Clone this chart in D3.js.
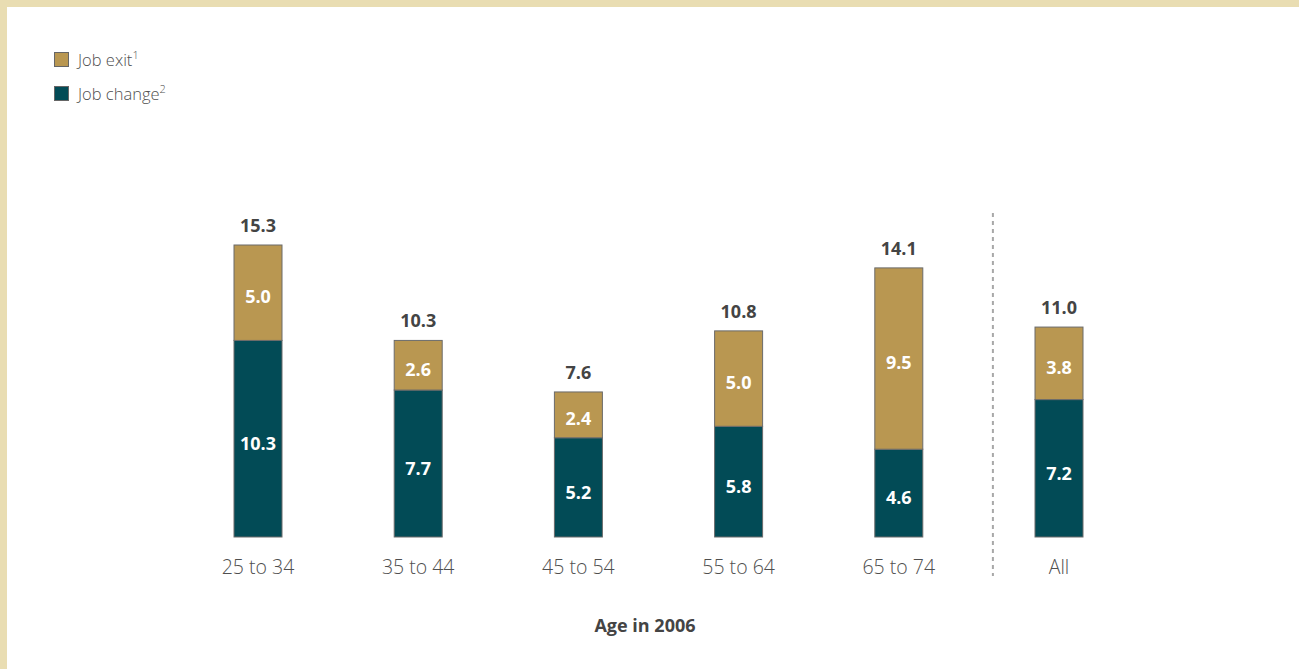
<!DOCTYPE html>
<html>
<head>
<meta charset="utf-8">
<script src="https://cdn.jsdelivr.net/npm/d3@7"></script>
<style>
  html, body { margin: 0; padding: 0; background: #e9ddb2; }
  svg { display: block; }
</style>
</head>
<body>
<svg id="chart" width="1299" height="669"></svg>
<script>
// Age groups and stacked shares (percent)
const categories = ["25 to 34", "35 to 44", "45 to 54", "55 to 64", "65 to 74", "All"];
const jobChange = [10.3, 7.7, 5.2, 5.8, 4.6, 7.2];
const jobExit = [5.0, 2.6, 2.4, 5.0, 9.5, 3.8];
const totals = [15.3, 10.3, 7.6, 10.8, 14.1, 11.0];
const seriesNames = ["Job exit", "Job change"];
const seriesSup = ["1", "2"];
const axisTitle = "Age in 2006";

const colors = { exit: "#b99751", change: "#024b56" };
const font = "'Open Sans', 'Lato', sans-serif";

const svg = d3.select("#chart");

// white panel inside the frame
svg.append("rect").attr("x", 7).attr("y", 7).attr("width", 1292).attr("height", 662).attr("fill", "#fff");

const x = d3.scalePoint().domain(categories).range([258, 1059]);
const y = d3.scaleLinear().domain([0, 15.3]).range([537, 245]);
const barW = 48;

const data = categories.map((c, i) => ({ cat: c, change: jobChange[i], exit: jobExit[i], total: totals[i] }));

const g = svg.append("g");

// job change segment (bottom)
g.selectAll("rect.change").data(data).join("rect")
  .attr("class", "change")
  .attr("x", d => x(d.cat) - barW / 2)
  .attr("width", barW)
  .attr("y", d => y(d.change))
  .attr("height", d => y(0) - y(d.change))
  .attr("fill", colors.change)
  .attr("stroke", "#6b6b6b").attr("stroke-width", 1);

// job exit segment (top)
g.selectAll("rect.exit").data(data).join("rect")
  .attr("class", "exit")
  .attr("x", d => x(d.cat) - barW / 2)
  .attr("width", barW)
  .attr("y", d => y(d.change + d.exit))
  .attr("height", d => y(d.change) - y(d.change + d.exit))
  .attr("fill", colors.exit)
  .attr("stroke", "#6b6b6b").attr("stroke-width", 1);

// segment values
g.selectAll("text.vchange").data(data).join("text")
  .attr("x", d => x(d.cat))
  .attr("y", d => (y(0) + y(d.change)) / 2 + 5)
  .attr("dy", "0.35em")
  .attr("text-anchor", "middle")
  .attr("fill", "#fff").attr("font-family", font).attr("font-weight", 700).attr("font-size", 18)
  .text(d => d.change.toFixed(1));

g.selectAll("text.vexit").data(data).join("text")
  .attr("x", d => x(d.cat))
  .attr("y", d => (y(d.change) + y(d.change + d.exit)) / 2 + 4)
  .attr("dy", "0.35em")
  .attr("text-anchor", "middle")
  .attr("fill", "#fff").attr("font-family", font).attr("font-weight", 700).attr("font-size", 18)
  .text(d => d.exit.toFixed(1));

// totals above bars
g.selectAll("text.total").data(data).join("text")
  .attr("x", d => x(d.cat))
  .attr("y", d => y(d.total) - 13)
  .attr("text-anchor", "middle")
  .attr("fill", "#444").attr("font-family", font).attr("font-weight", 700).attr("font-size", 18)
  .text(d => d.total.toFixed(1));

// category labels
g.selectAll("text.cat").data(categories).join("text")
  .attr("x", d => x(d))
  .attr("y", 574)
  .attr("text-anchor", "middle")
  .attr("fill", "#4f4f4f").attr("font-family", font).attr("font-weight", 300).attr("font-size", 19.5)
  .text(d => d);

// separator between age groups and overall
const sepX = (x(categories[4]) + x(categories[5])) / 2 + 14;
svg.append("line")
  .attr("x1", sepX).attr("x2", sepX)
  .attr("y1", 213).attr("y2", 576)
  .attr("stroke", "#a8a8a8").attr("stroke-width", 2).attr("stroke-dasharray", "4,4");

// axis title
svg.append("text")
  .attr("x", 645).attr("y", 632)
  .attr("text-anchor", "middle")
  .attr("fill", "#444").attr("font-family", font).attr("font-weight", 700).attr("font-size", 18)
  .text(axisTitle);

// legend
const legend = svg.append("g").attr("transform", "translate(54,52)");
const legendColors = [colors.exit, colors.change];
seriesNames.forEach((name, i) => {
  const row = legend.append("g").attr("transform", `translate(0,${i * 34})`);
  row.append("rect").attr("x", 0.5).attr("y", 0.5).attr("width", 14).attr("height", 14)
    .attr("fill", legendColors[i]).attr("stroke", "#666").attr("stroke-width", 1);
  const t = row.append("text").attr("x", 24).attr("y", 14)
    .attr("fill", "#4f4f4f").attr("font-family", font).attr("font-weight", 300).attr("font-size", 16.5);
  t.append("tspan").text(name);
  t.append("tspan").attr("dy", -7).attr("font-size", 11).text(seriesSup[i]);
});
</script>
</body>
</html>
